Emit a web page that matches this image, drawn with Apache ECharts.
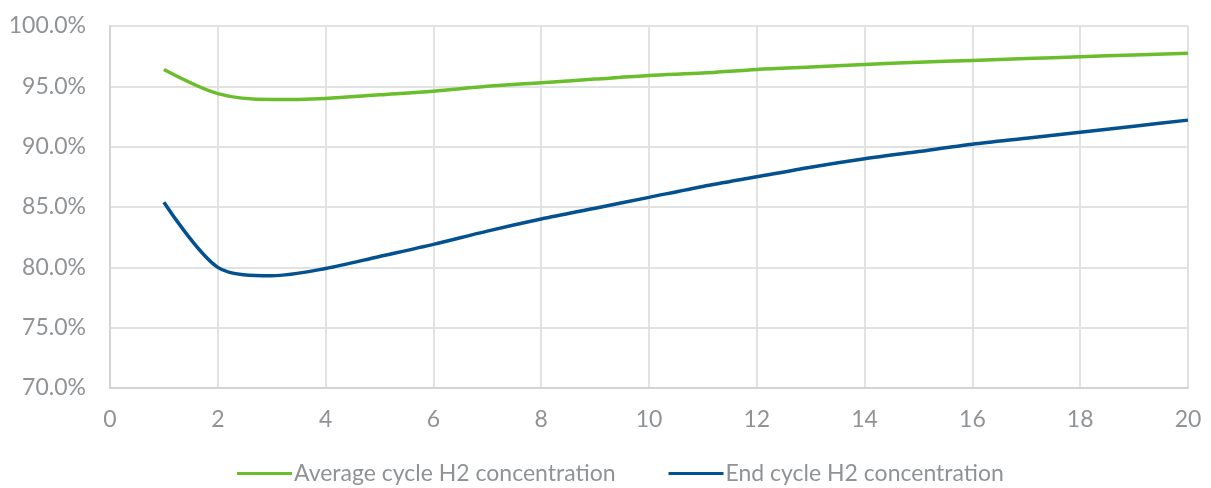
<!DOCTYPE html>
<html><head><meta charset="utf-8">
<script src="https://cdn.jsdelivr.net/npm/echarts@6/dist/echarts.min.js"></script>
<style>html,body{margin:0;padding:0;background:#fff}#c{width:1211px;height:488px}</style>
</head><body><div id="c"></div>
<script>
const cycles = [1,2,3,4,5,6,7,8,9,10,11,12,13,14,15,16,17,18,19,20];
const avgH2 = [0.964,0.944,0.939,0.940,0.943,0.946,0.950,0.953,0.956,0.959,0.961,0.964,0.966,0.968,0.970,0.9715,0.973,0.9745,0.976,0.9775];
const endH2 = [0.854,0.800,0.793,0.799,0.809,0.819,0.830,0.840,0.849,0.858,0.867,0.875,0.883,0.890,0.896,0.902,0.907,0.912,0.917,0.922];
const seriesNames = ['Average cycle H2 concentration','End cycle H2 concentration'];
const colors = ['#6abd2b','#03518f'];
const font = 'Lato';
const chart = echarts.init(document.getElementById('c'));
chart.setOption({
  animation:false,
  grid:{left:110,right:23,top:26,bottom:100},
  legend:{bottom:-2,left:232,itemWidth:55,itemHeight:3,itemGap:53,icon:'rect',
    textStyle:{color:'#909396',fontSize:23,fontFamily:font,padding:[0,0,0,-3]},
    data:seriesNames},
  xAxis:{type:'value',min:0,max:20,interval:2,
    axisLine:{lineStyle:{color:'#d4d4d4',width:2}},axisTick:{show:false},
    splitLine:{lineStyle:{color:'#e2e2e2',width:2}},
    axisLabel:{color:'#909396',fontSize:23,fontFamily:font,margin:20}},
  yAxis:{type:'value',min:0.70,max:1.0,interval:0.05,
    axisLine:{show:true,lineStyle:{color:'#d4d4d4',width:2}},axisTick:{show:false},
    splitLine:{lineStyle:{color:'#e2e2e2',width:2}},
    axisLabel:{color:'#909396',fontSize:23,fontFamily:font,margin:24,
      formatter:v=>(v*100).toFixed(1)+'%'}},
  series:[
    {name:seriesNames[0],type:'line',smooth:0.3,showSymbol:false,
      data:cycles.map((c,i)=>[c,avgH2[i]]),lineStyle:{color:colors[0],width:3.5},itemStyle:{color:colors[0]}},
    {name:seriesNames[1],type:'line',smooth:0.3,showSymbol:false,
      data:cycles.map((c,i)=>[c,endH2[i]]),lineStyle:{color:colors[1],width:3.5},itemStyle:{color:colors[1]}}
  ]
});
</script></body></html>
